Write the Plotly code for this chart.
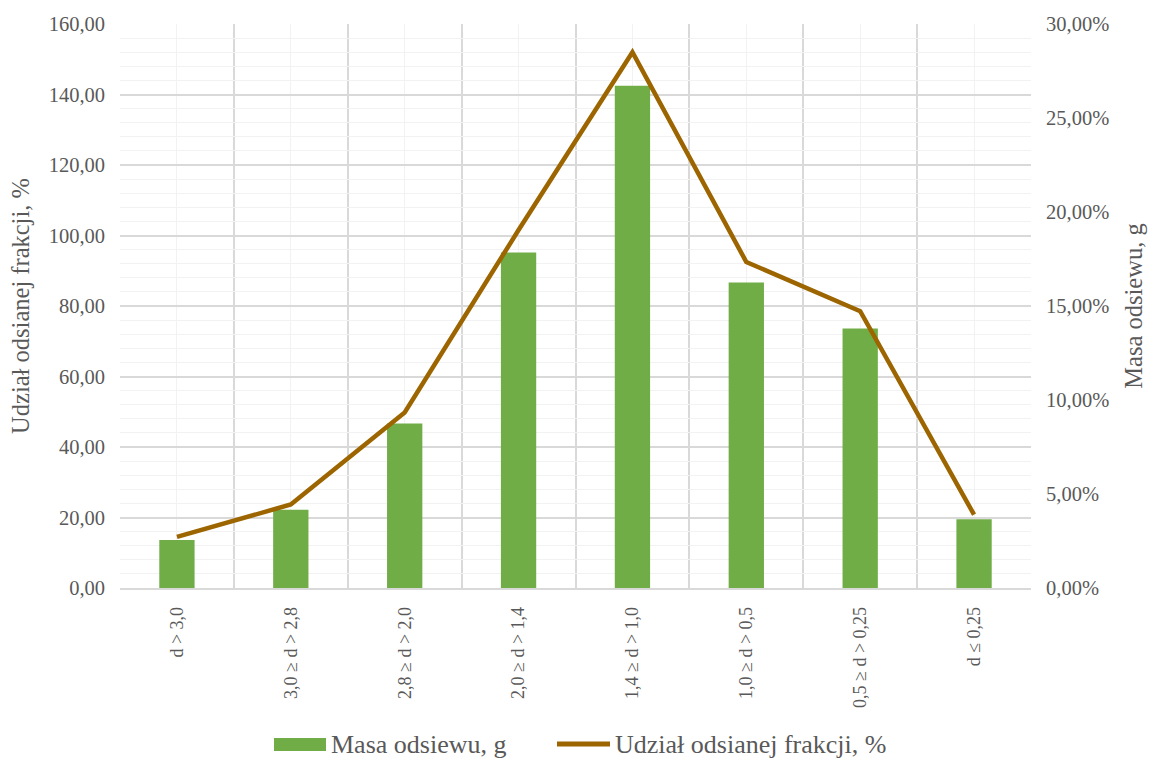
import plotly.graph_objects as go

# Sieve fractions (grain size d, mm)
categories = [
    "d > 3,0",
    "3,0 ≥ d > 2,8",
    "2,8 ≥ d > 2,0",
    "2,0 ≥ d > 1,4",
    "1,4 ≥ d > 1,0",
    "1,0 ≥ d > 0,5",
    "0,5 ≥ d > 0,25",
    "d ≤ 0,25",
]
# Mass retained on each sieve, g
mass_g = [13.6, 22.2, 46.7, 95.2, 142.5, 86.7, 73.6, 19.5]
# Share of each fraction, %
share_pct = [2.72, 4.44, 9.34, 19.04, 28.50, 17.34, 14.72, 3.90]

left_ticks = [0, 20, 40, 60, 80, 100, 120, 140, 160]
right_ticks = [0, 5, 10, 15, 20, 25, 30]

series_names = ["Masa odsiewu, g", "Udział odsianej frakcji, %"]

TEXT = "#595959"
GRID = "#D9D9D9"
GRID_MINOR = "#F2F2F2"
BAR_COLOR = "#70AD47"
LINE_COLOR = "#9C6500"
FONT = "Times New Roman, Liberation Serif, serif"

W, H = 1151, 758
ML, MR, MT, MB = 120, 120, 24, 170
PW, PH = W - ML - MR, H - MT - MB


def px_x(px):
    return (px - ML) / PW


def px_y(py):
    return (H - MB - py) / PH


def fmt_pl(v, decimals=2):
    return f"{v:.{decimals}f}".replace(".", ",")


xpos = list(range(len(categories)))
bounds = [i - 0.5 for i in range(len(categories) + 1)]

fig = go.Figure()
fig.add_trace(go.Bar(
    x=xpos, y=mass_g, name=series_names[0],
    marker=dict(color=BAR_COLOR, line=dict(width=0)),
    width=0.31, yaxis="y", showlegend=False,
))
fig.add_trace(go.Scatter(
    x=xpos, y=share_pct, name=series_names[1],
    mode="lines", line=dict(color=LINE_COLOR, width=4.5),
    yaxis="y2", showlegend=False,
))

# Legend drawn below the x-axis labels: swatch + caption for each series
legend_y = 744
shapes = [
    dict(type="rect", xref="paper", yref="paper",
         x0=px_x(274), x1=px_x(326), y0=px_y(751), y1=px_y(738),
         fillcolor=BAR_COLOR, line=dict(width=0), layer="above"),
    dict(type="line", xref="paper", yref="paper",
         x0=px_x(557), x1=px_x(610), y0=px_y(legend_y), y1=px_y(legend_y),
         line=dict(color=LINE_COLOR, width=5), layer="above"),
]
annotations = [
    dict(text=series_names[0], xref="paper", yref="paper",
         x=px_x(329), y=px_y(legend_y), xanchor="left", yanchor="middle",
         showarrow=False, font=dict(family=FONT, size=26, color=TEXT)),
    dict(text=series_names[1], xref="paper", yref="paper",
         x=px_x(613), y=px_y(legend_y), xanchor="left", yanchor="middle",
         showarrow=False, font=dict(family=FONT, size=26, color=TEXT)),
]

fig.update_layout(
    width=W, height=H,
    margin=dict(l=ML, r=MR, t=MT, b=MB, autoexpand=False),
    paper_bgcolor="white", plot_bgcolor="white",
    separators=", ",
    font=dict(family=FONT, color=TEXT, size=20),
    showlegend=False,
    shapes=shapes,
    annotations=annotations,
    xaxis=dict(
        range=[-0.5, len(categories) - 0.5],
        tickmode="array", tickvals=xpos, ticktext=categories,
        tickangle=-90, tickfont=dict(family=FONT, size=18, color=TEXT),
        showgrid=True, gridcolor=GRID_MINOR, gridwidth=1,
        minor=dict(tickmode="array", tickvals=bounds, showgrid=True,
                   gridcolor=GRID, gridwidth=1.5, ticks=""),
        ticks="", ticklabelstandoff=10, automargin=False,
        showline=True, linecolor=GRID, linewidth=1.5,
        zeroline=False, fixedrange=True,
    ),
    yaxis=dict(
        range=[0, 160], tickmode="array", tickvals=left_ticks,
        ticktext=[fmt_pl(v) for v in left_ticks],
        tickfont=dict(family=FONT, size=20.5, color=TEXT),
        showgrid=True, gridcolor=GRID, gridwidth=1.5,
        minor=dict(dtick=4, tick0=0, showgrid=True, gridcolor=GRID_MINOR,
                   gridwidth=1, ticks=""),
        ticks="", ticklabelstandoff=14, automargin=False,
        zeroline=False, showline=False,
        title=dict(text=series_names[1],
                   font=dict(family=FONT, size=24.5, color=TEXT), standoff=12),
    ),
    yaxis2=dict(
        range=[0, 30], overlaying="y", side="right",
        tickmode="array", tickvals=right_ticks,
        ticktext=[fmt_pl(v) + "%" for v in right_ticks],
        tickfont=dict(family=FONT, size=20.5, color=TEXT),
        showgrid=False, zeroline=False, showline=False,
        ticks="", ticklabelstandoff=14, automargin=False,
        title=dict(text=series_names[0],
                   font=dict(family=FONT, size=24.5, color=TEXT), standoff=16),
    ),
)

fig.write_html("out.html")
